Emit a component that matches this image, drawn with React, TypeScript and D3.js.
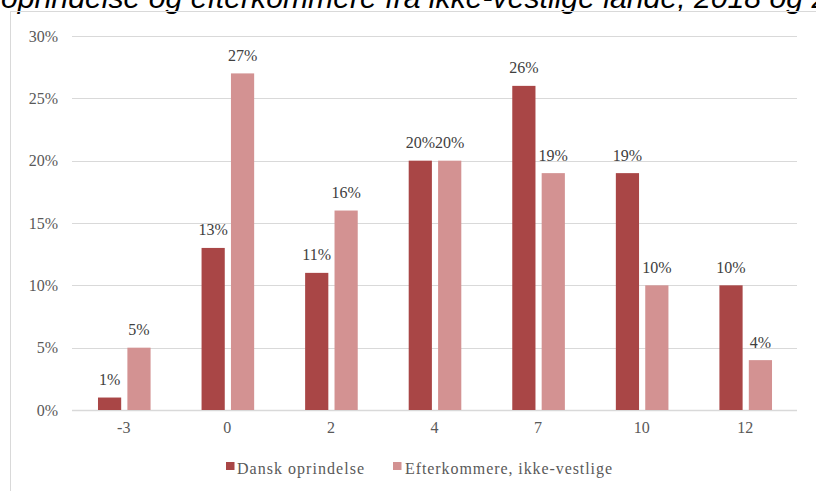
import React from 'react';
import * as d3 from 'd3';

// Grade categories and share of students per group (%)
const categories = ['-3', '0', '2', '4', '7', '10', '12'];
const danskValues = [1, 13, 11, 20, 26, 19, 10];
const efterkommereValues = [5, 27, 16, 20, 19, 10, 4];
const yTicks = [0, 5, 10, 15, 20, 25, 30];
const seriesNames = ['Dansk oprindelse', 'Efterkommere, ikke-vestlige'];
const seriesColors = ['#A94646', '#D39292'];
const titleText = 'oprindelse og efterkommere fra ikke-vestlige lande, 2018 og 2019';

const W = 816;
const H = 491;
const plotLeft = 72;
const plotRight = 797;
const plotTop = 36;
const plotBottom = 410;
const serif = '"Liberation Serif", "Times New Roman", serif';

export default function App() {
  const x = d3.scaleBand<string>().domain(categories).range([plotLeft, plotRight]);
  const y = d3.scaleLinear().domain([0, 30]).range([plotBottom, plotTop]);
  const barW = 23.2;
  const series = [
    { name: seriesNames[0], values: danskValues, color: seriesColors[0], offset: -25.8 },
    { name: seriesNames[1], values: efterkommereValues, color: seriesColors[1], offset: 3.6 },
  ];

  return (
    <svg
      width={W}
      height={H}
      style={{ position: 'absolute', left: 0, top: 0, background: '#fff' }}
    >
      {/* heading, partly above the frame */}
      <text
        x={1}
        y={7.5}
        fontFamily='"Liberation Sans", Arial, sans-serif'
        fontStyle="italic"
        fontSize={30.2}
        fill="#000"
      >
        {titleText}
      </text>

      {/* chart frame */}
      <line x1={10} x2={W} y1={11.5} y2={11.5} stroke="#d9d9d9" />
      <line x1={10.5} x2={10.5} y1={11.5} y2={H} stroke="#d9d9d9" />

      {/* gridlines and y labels */}
      {yTicks.map((t) => (
        <g key={t}>
          <line
            x1={plotLeft}
            x2={plotRight}
            y1={Math.round(y(t)) + 0.5}
            y2={Math.round(y(t)) + 0.5}
            stroke="#d9d9d9"
            strokeWidth={t === 0 ? 1.3 : 1}
          />
          <text
            x={58}
            y={y(t)}
            dy="0.35em"
            textAnchor="end"
            fontFamily={serif}
            fontSize={16}
            fill="#595959"
          >
            {`${t}%`}
          </text>
        </g>
      ))}

      {/* bars with value labels */}
      {series.map((s) => (
        <g key={s.name}>
          {categories.map((c, i) => {
            const cx = (x(c) as number) + x.bandwidth() / 2;
            const v = s.values[i];
            const top = y(v);
            return (
              <g key={c}>
                <rect
                  x={cx + s.offset}
                  y={top}
                  width={barW}
                  height={plotBottom - top}
                  fill={s.color}
                />
                <text
                  x={cx + s.offset + barW / 2}
                  y={top - 12.5}
                  textAnchor="middle"
                  fontFamily={serif}
                  fontSize={16}
                  fill="#404040"
                >
                  {`${v}%`}
                </text>
              </g>
            );
          })}
        </g>
      ))}

      {/* x labels */}
      {categories.map((c) => (
        <text
          key={c}
          x={(x(c) as number) + x.bandwidth() / 2}
          y={433}
          textAnchor="middle"
          fontFamily={serif}
          fontSize={16}
          fill="#595959"
        >
          {c}
        </text>
      ))}

      {/* legend */}
      {[
        { name: seriesNames[0], color: seriesColors[0], sx: 226, tx: 237, len: 127 },
        { name: seriesNames[1], color: seriesColors[1], sx: 393, tx: 405, len: 207 },
      ].map((l) => (
        <g key={l.name}>
          <rect x={l.sx} y={462} width={8.5} height={8} fill={l.color} />
          <text
            x={l.tx}
            y={474}
            fontFamily={serif}
            fontSize={16}
            fill="#595959"
            textLength={l.len}
            lengthAdjust="spacing"
          >
            {l.name}
          </text>
        </g>
      ))}
    </svg>
  );
}
